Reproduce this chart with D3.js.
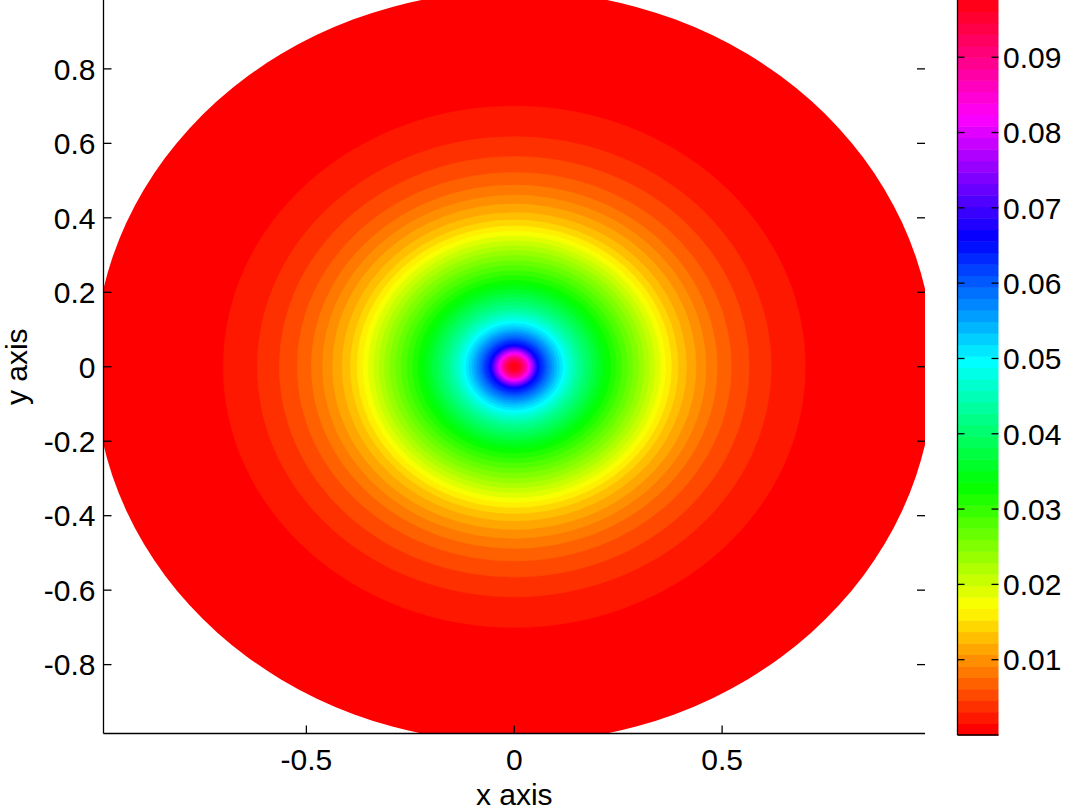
<!DOCTYPE html>
<html>
<head>
<meta charset="utf-8">
<script src="https://cdn.jsdelivr.net/npm/d3@7"></script>
<style>
  html, body { margin: 0; padding: 0; background: #fff; }
  svg text { font-family: "Liberation Sans", Arial, Helvetica, sans-serif; fill: #000; }
</style>
</head>
<body>
<div id="chart"></div>
<script>
"use strict";

/* ── Data ── */
const X_TICKS  = [-0.5, 0, 0.5];
const Y_TICKS  = [-0.8, -0.6, -0.4, -0.2, 0, 0.2, 0.4, 0.6, 0.8];
const CB_TICKS = [0.01, 0.02, 0.03, 0.04, 0.05, 0.06, 0.07, 0.08, 0.09];
const X_LIMITS = [-0.988, 0.988];
const Y_LIMITS = [-0.985, 0.985];
const C_LIMITS = [0, 0.0976];
const N_LEVELS = 64;

/* radius at which each colour level starts (level 0 = disk edge) */
const LEVEL_RADII = [
  1.010, 0.700, 0.618, 0.565, 0.522, 0.488, 0.461, 0.437,
  0.414, 0.394, 0.378, 0.364, 0.351, 0.338, 0.325, 0.312,
  0.299, 0.285, 0.272, 0.258, 0.245, 0.232, 0.220, 0.208,
  0.197, 0.186, 0.175, 0.165, 0.155, 0.146, 0.138, 0.130,
  0.123, 0.116, 0.109, 0.102, 0.096, 0.090, 0.084, 0.078,
  0.073, 0.068, 0.062, 0.057, 0.055, 0.053, 0.051, 0.049,
  0.047, 0.045, 0.043, 0.041, 0.039, 0.037, 0.035, 0.033,
  0.031, 0.029, 0.027, 0.024, 0.021, 0.018, 0.014, 0.010
];

/* ── MATLAB-like hsv colormap ── */
const hsvColour = k => d3.hsl((k / N_LEVELS) * 360, 1, 0.5).formatHex();

/* ── Layout ── */
const W = 1065, H = 810;
const plot = { left: 103.5, right: 925, top: 0, bottom: 733.5 };
const cbar = { left: 957.5, right: 998.5, top: 0, bottom: 735 };
const FONT = 30;

const svg = d3.select("#chart")
  .append("svg")
  .attr("width", W)
  .attr("height", H);

/* ── Scales ── */
const x = d3.scaleLinear().domain(X_LIMITS).range([plot.left, plot.right]);
const y = d3.scaleLinear().domain(Y_LIMITS).range([plot.bottom, plot.top]);
const c = d3.scaleLinear().domain(C_LIMITS).range([cbar.bottom, cbar.top]);

/* ── Clip to axes box ── */
svg.append("defs").append("clipPath").attr("id", "plot-clip")
  .append("rect")
  .attr("x", plot.left).attr("y", plot.top)
  .attr("width", plot.right - plot.left)
  .attr("height", plot.bottom - plot.top);

/* ── Filled contour bands (outermost first) ── */
const levels = LEVEL_RADII.map((r, k) => ({ k, r }));

svg.append("g")
  .attr("clip-path", "url(#plot-clip)")
  .selectAll("ellipse")
  .data(levels)
  .join("ellipse")
  .attr("cx", x(0))
  .attr("cy", y(0))
  .attr("rx", d => x(d.r) - x(0))
  .attr("ry", d => y(0) - y(d.r))
  .attr("fill", d => hsvColour(d.k))
  .attr("stroke", d => hsvColour(d.k))
  .attr("stroke-width", d => d.k === 0 ? 0 : 0.6);

/* ── Axes ── */
const axes = svg.append("g").attr("stroke", "#000").attr("stroke-width", 1.3);

// left & bottom lines
axes.append("line")
  .attr("x1", plot.left).attr("x2", plot.left)
  .attr("y1", plot.top).attr("y2", plot.bottom);
axes.append("line")
  .attr("x1", plot.left).attr("x2", plot.right)
  .attr("y1", plot.bottom).attr("y2", plot.bottom);

// inward ticks, mirrored on the right
const TICK = 8;
axes.selectAll(".ytick-l").data(Y_TICKS).join("line")
  .attr("x1", plot.left).attr("x2", plot.left + TICK)
  .attr("y1", d => y(d)).attr("y2", d => y(d));
axes.selectAll(".ytick-r").data(Y_TICKS).join("line")
  .attr("x1", plot.right - TICK).attr("x2", plot.right)
  .attr("y1", d => y(d)).attr("y2", d => y(d));
axes.selectAll(".xtick").data(X_TICKS).join("line")
  .attr("x1", d => x(d)).attr("x2", d => x(d))
  .attr("y1", plot.bottom).attr("y2", plot.bottom - TICK);

/* ── Tick labels ── */
const fmt1 = d => d === 0 ? "0" : d3.format(".1f")(d).replace("\u2212", "-");

svg.selectAll(".ylab").data(Y_TICKS).join("text")
  .attr("class", "ylab")
  .attr("x", plot.left - 8)
  .attr("y", d => y(d))
  .attr("dy", "0.36em")
  .attr("text-anchor", "end")
  .attr("font-size", FONT)
  .text(fmt1);

svg.selectAll(".xlab").data(X_TICKS).join("text")
  .attr("class", "xlab")
  .attr("x", d => x(d))
  .attr("y", 770)
  .attr("text-anchor", "middle")
  .attr("font-size", FONT)
  .text(fmt1);

/* ── Axis titles ── */
svg.append("text")
  .attr("x", x(0)).attr("y", 805)
  .attr("text-anchor", "middle")
  .attr("font-size", FONT)
  .text("x axis");

svg.append("text")
  .attr("transform", `translate(27,${y(0)}) rotate(-90)`)
  .attr("text-anchor", "middle")
  .attr("font-size", FONT)
  .text("y axis");

/* ── Colour bar ── */
const cbLevels = d3.range(N_LEVELS).map(k => ({
  k,
  lo: C_LIMITS[0] + (C_LIMITS[1] - C_LIMITS[0]) * k / N_LEVELS,
  hi: C_LIMITS[0] + (C_LIMITS[1] - C_LIMITS[0]) * (k + 1) / N_LEVELS
}));

svg.append("g").selectAll("rect")
  .data(cbLevels)
  .join("rect")
  .attr("x", cbar.left)
  .attr("y", d => c(d.hi))
  .attr("width", cbar.right - cbar.left)
  .attr("height", d => c(d.lo) - c(d.hi) + 0.5)
  .attr("fill", d => hsvColour(d.k));

const cbAxes = svg.append("g").attr("stroke", "#000").attr("stroke-width", 1.3);
cbAxes.append("line")
  .attr("x1", cbar.left).attr("x2", cbar.left)
  .attr("y1", cbar.top).attr("y2", cbar.bottom);
cbAxes.append("line")
  .attr("x1", cbar.left).attr("x2", cbar.right)
  .attr("y1", cbar.bottom).attr("y2", cbar.bottom);
cbAxes.selectAll(".cbtick-l").data(CB_TICKS).join("line")
  .attr("x1", cbar.left).attr("x2", cbar.left + 7)
  .attr("y1", d => c(d)).attr("y2", d => c(d));
cbAxes.selectAll(".cbtick-r").data(CB_TICKS).join("line")
  .attr("x1", cbar.right - 7).attr("x2", cbar.right)
  .attr("y1", d => c(d)).attr("y2", d => c(d));

svg.selectAll(".cblab").data(CB_TICKS).join("text")
  .attr("class", "cblab")
  .attr("x", 1003)
  .attr("y", d => c(d))
  .attr("dy", "0.36em")
  .attr("font-size", FONT)
  .text(d => d3.format(".2f")(d));
</script>
</body>
</html>
